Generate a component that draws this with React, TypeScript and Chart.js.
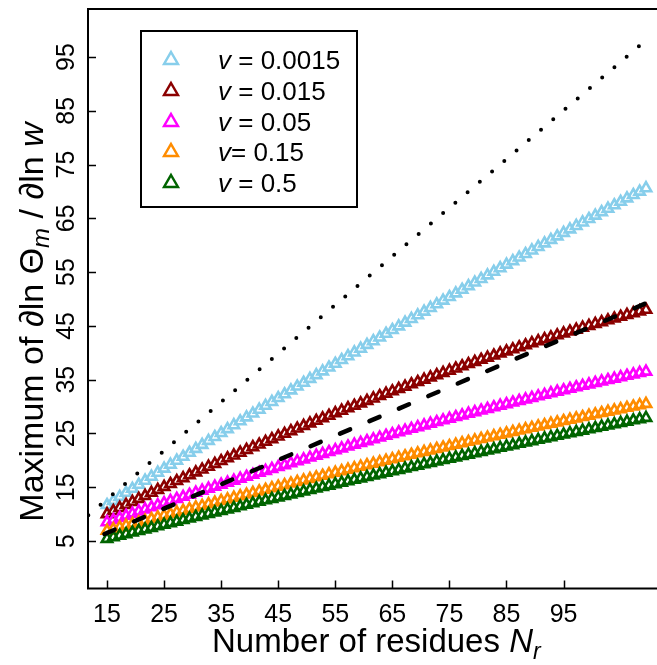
import React, { useEffect, useRef } from 'react';
import { Chart, registerables } from 'chart.js';

Chart.register(...registerables);

// Number of residues N_r
const residues = [
  15, 16, 17, 18, 19, 20, 21, 22, 23, 24, 25, 26, 27, 28, 29, 30, 31, 32, 33, 34,
  35, 36, 37, 38, 39, 40, 41, 42, 43, 44, 45, 46, 47, 48, 49, 50, 51, 52, 53, 54,
  55, 56, 57, 58, 59, 60, 61, 62, 63, 64, 65, 66, 67, 68, 69, 70, 71, 72, 73, 74,
  75, 76, 77, 78, 79, 80, 81, 82, 83, 84, 85, 86, 87, 88, 89, 90, 91, 92, 93, 94,
  95, 96, 97, 98, 99, 100,
];

const v0015 = [
  11.70, 12.46, 13.21, 13.96, 14.71, 15.46, 16.21, 16.96, 17.70, 18.45, 19.19, 19.93, 20.67, 21.41, 22.14, 22.88, 23.61, 24.34, 25.07, 25.80,
  26.53, 27.26, 27.98, 28.70, 29.42, 30.14, 30.86, 31.58, 32.29, 33.01, 33.72, 34.43, 35.14, 35.85, 36.55, 37.26, 37.96, 38.66, 39.36, 40.06,
  40.76, 41.46, 42.15, 42.84, 43.54, 44.23, 44.91, 45.60, 46.29, 46.97, 47.65, 48.33, 49.01, 49.69, 50.37, 51.04, 51.72, 52.39, 53.06, 53.73,
  54.39, 55.06, 55.73, 56.39, 57.05, 57.71, 58.37, 59.03, 59.68, 60.34, 60.99, 61.64, 62.29, 62.94, 63.58, 64.23, 64.87, 65.51, 66.15, 66.79,
  67.43, 68.07, 68.70, 69.34, 69.97, 70.60,
];

const v015 = [
  10.00, 10.57, 11.15, 11.71, 12.28, 12.84, 13.40, 13.96, 14.51, 15.06, 15.60, 16.15, 16.69, 17.23, 17.76, 18.29, 18.82, 19.35, 19.87, 20.39,
  20.91, 21.42, 21.93, 22.44, 22.94, 23.45, 23.94, 24.44, 24.93, 25.42, 25.91, 26.39, 26.87, 27.35, 27.82, 28.29, 28.76, 29.23, 29.69, 30.15,
  30.60, 31.06, 31.51, 31.96, 32.40, 32.84, 33.28, 33.71, 34.15, 34.57, 35.00, 35.42, 35.84, 36.26, 36.67, 37.08, 37.49, 37.90, 38.30, 38.70,
  39.09, 39.49, 39.88, 40.26, 40.65, 41.03, 41.40, 41.78, 42.15, 42.52, 42.88, 43.25, 43.61, 43.96, 44.31, 44.67, 45.01, 45.36, 45.70, 46.04,
  46.37, 46.70, 47.03, 47.36, 47.68, 48.00,
];

const v05 = [
  8.50, 8.90, 9.30, 9.70, 10.10, 10.50, 10.89, 11.28, 11.67, 12.06, 12.45, 12.83, 13.22, 13.60, 13.98, 14.36, 14.73, 15.11, 15.48, 15.85,
  16.22, 16.59, 16.95, 17.32, 17.68, 18.04, 18.40, 18.76, 19.11, 19.47, 19.82, 20.17, 20.52, 20.86, 21.21, 21.55, 21.89, 22.23, 22.57, 22.91,
  23.24, 23.58, 23.91, 24.24, 24.57, 24.89, 25.22, 25.54, 25.86, 26.18, 26.50, 26.81, 27.12, 27.44, 27.75, 28.06, 28.36, 28.67, 28.97, 29.27,
  29.57, 29.87, 30.17, 30.46, 30.75, 31.05, 31.33, 31.62, 31.91, 32.19, 32.48, 32.76, 33.03, 33.31, 33.59, 33.86, 34.13, 34.40, 34.67, 34.94,
  35.20, 35.47, 35.73, 35.99, 36.25, 36.50,
];

const v15 = [
  6.90, 7.22, 7.53, 7.85, 8.16, 8.47, 8.78, 9.09, 9.40, 9.71, 10.02, 10.33, 10.63, 10.94, 11.24, 11.54, 11.85, 12.15, 12.45, 12.75,
  13.05, 13.34, 13.64, 13.94, 14.23, 14.53, 14.82, 15.11, 15.40, 15.69, 15.98, 16.27, 16.56, 16.85, 17.13, 17.42, 17.70, 17.98, 18.27, 18.55,
  18.83, 19.11, 19.39, 19.66, 19.94, 20.22, 20.49, 20.76, 21.04, 21.31, 21.58, 21.85, 22.12, 22.39, 22.66, 22.92, 23.19, 23.45, 23.72, 23.98,
  24.24, 24.50, 24.76, 25.02, 25.28, 25.54, 25.79, 26.05, 26.30, 26.56, 26.81, 27.06, 27.31, 27.56, 27.81, 28.06, 28.31, 28.56, 28.80, 29.05,
  29.29, 29.53, 29.77, 30.01, 30.25, 30.49,
];

const v5 = [
  5.40, 5.70, 5.99, 6.28, 6.58, 6.87, 7.16, 7.45, 7.74, 8.03, 8.32, 8.61, 8.90, 9.18, 9.47, 9.75, 10.04, 10.32, 10.60, 10.89,
  11.17, 11.45, 11.73, 12.01, 12.29, 12.57, 12.84, 13.12, 13.39, 13.67, 13.94, 14.22, 14.49, 14.76, 15.03, 15.30, 15.57, 15.84, 16.11, 16.38,
  16.65, 16.91, 17.18, 17.44, 17.71, 17.97, 18.23, 18.49, 18.75, 19.02, 19.28, 19.53, 19.79, 20.05, 20.31, 20.56, 20.82, 21.07, 21.33, 21.58,
  21.83, 22.08, 22.33, 22.58, 22.83, 23.08, 23.33, 23.58, 23.82, 24.07, 24.32, 24.56, 24.80, 25.05, 25.29, 25.53, 25.77, 26.01, 26.25, 26.49,
  26.73, 26.96, 27.20, 27.44, 27.67, 27.90,
];

// Reference lines
const dashedX = [14.6, 100];
const dashedY = [6.3, 49.2];
const dottedX = [12.05, 100];
const dottedY = [9.8, 98.1];

// Axis ticks
const xTickValues = [15, 24, 33, 42, 51, 60, 69, 78, 87];
const xTickLabels = ['15', '25', '35', '45', '55', '65', '75', '85', '95'];
const yTickValues = [5, 15, 25, 35, 45, 55, 65, 75, 85, 95];
const yTickLabels = ['5', '15', '25', '35', '45', '55', '65', '75', '85', '95'];

// Legend
const legendValues = [' = 0.0015', ' = 0.015', ' = 0.05', '= 0.15', ' = 0.5'];
const seriesColors = ['#87CEEB', '#8B0000', '#FF00FF', '#FF8C00', '#006400'];

const FONT = '"Liberation Sans", Arial, Helvetica, sans-serif';

type Piece = { t: string; size: number; italic?: boolean; dy?: number };

function drawPieces(ctx: CanvasRenderingContext2D, pieces: Piece[], x: number, y: number, align: 'left' | 'center') {
  const widths = pieces.map((p) => {
    ctx.font = `${p.italic ? 'italic ' : ''}${p.size}px ${FONT}`;
    return ctx.measureText(p.t).width;
  });
  const total = widths.reduce((a, b) => a + b, 0);
  let cx = align === 'center' ? x - total / 2 : x;
  ctx.textAlign = 'left';
  ctx.textBaseline = 'alphabetic';
  pieces.forEach((p, i) => {
    ctx.font = `${p.italic ? 'italic ' : ''}${p.size}px ${FONT}`;
    ctx.fillText(p.t, cx, y + (p.dy || 0));
    cx += widths[i];
  });
}

const decorPlugin = {
  id: 'decor',
  afterDraw(chart: any) {
    const ctx: CanvasRenderingContext2D = chart.ctx;
    const { left, top, right, bottom } = chart.chartArea;
    const xs = chart.scales.x;
    const ys = chart.scales.y;
    ctx.save();
    ctx.strokeStyle = '#000';
    ctx.fillStyle = '#000';
    // box
    ctx.lineWidth = 2;
    ctx.strokeRect(left, top, right - left, bottom - top);
    // ticks (inward)
    ctx.lineWidth = 1.5;
    ctx.beginPath();
    xTickValues.forEach((v) => {
      const px = Math.round(xs.getPixelForValue(v)) + 0.5;
      ctx.moveTo(px, bottom);
      ctx.lineTo(px, bottom - 8);
    });
    yTickValues.forEach((v) => {
      const py = Math.round(ys.getPixelForValue(v)) + 0.5;
      ctx.moveTo(left, py);
      ctx.lineTo(left + 8, py);
    });
    ctx.stroke();
    // x tick labels
    ctx.font = `25px ${FONT}`;
    ctx.textAlign = 'center';
    ctx.textBaseline = 'alphabetic';
    xTickValues.forEach((v, i) => {
      ctx.fillText(xTickLabels[i], xs.getPixelForValue(v), 622);
    });
    // y tick labels (rotated)
    yTickValues.forEach((v, i) => {
      ctx.save();
      ctx.translate(74, ys.getPixelForValue(v));
      ctx.rotate(-Math.PI / 2);
      ctx.font = `25px ${FONT}`;
      ctx.textAlign = 'center';
      ctx.textBaseline = 'alphabetic';
      ctx.fillText(yTickLabels[i], 0, 0);
      ctx.restore();
    });
    // x title
    drawPieces(
      ctx,
      [
        { t: 'Number of residues ', size: 33 },
        { t: 'N', size: 33, italic: true },
        { t: 'r', size: 23, italic: true, dy: 7 },
      ],
      212,
      652,
      'left'
    );
    // y title
    ctx.save();
    ctx.translate(43, 322);
    ctx.rotate(-Math.PI / 2);
    drawPieces(
      ctx,
      [
        { t: 'Maximum of \u2202ln \u0398', size: 34 },
        { t: 'm', size: 24, italic: true, dy: 6 },
        { t: ' / \u2202ln ', size: 34 },
        { t: 'w', size: 34, italic: true },
      ],
      0,
      0,
      'center'
    );
    ctx.restore();
    // legend
    ctx.lineWidth = 2;
    ctx.strokeRect(141, 31, 216, 176);
    const rowY = [60, 91, 122, 152, 183];
    legendValues.forEach((txt, i) => {
      const cx = 171;
      const cy = rowY[i];
      const r = 8;
      ctx.strokeStyle = seriesColors[i];
      ctx.lineWidth = 2.5;
      ctx.beginPath();
      ctx.moveTo(cx, cy - r);
      ctx.lineTo(cx + 0.866 * r, cy + 0.5 * r);
      ctx.lineTo(cx - 0.866 * r, cy + 0.5 * r);
      ctx.closePath();
      ctx.stroke();
      ctx.fillStyle = '#000';
      drawPieces(
        ctx,
        [
          { t: 'v', size: 26, italic: true },
          { t: txt, size: 26 },
        ],
        218,
        cy + 9.3,
        'left'
      );
    });
    ctx.restore();
  },
};

function pts(xs: number[], ys: number[]) {
  return xs.map((x, i) => ({ x, y: ys[i] }));
}

export default function App() {
  const ref = useRef<HTMLCanvasElement | null>(null);
  useEffect(() => {
    if (!ref.current) return;
    const series = [v0015, v015, v05, v15, v5];
    const triDatasets = series.map((vals, i) => ({
      label: 'v' + legendValues[i],
      data: pts(residues, vals),
      showLine: false,
      pointStyle: 'triangle',
      pointRadius: 6,
      pointHoverRadius: 6,
      pointBorderWidth: 2.6,
      pointBorderColor: seriesColors[i],
      pointBackgroundColor: 'rgba(0,0,0,0)',
      borderColor: seriesColors[i],
      order: 5 - i,
    }));
    const chart = new Chart(ref.current, {
      type: 'line',
      data: {
        datasets: [
          {
            label: 'dashed',
            data: pts(dashedX, dashedY),
            borderColor: '#000',
            borderWidth: 4.5,
            borderDash: [11, 21],
            borderCapStyle: 'round',
            pointRadius: 0,
            fill: false,
            order: 0,
          } as any,
          {
            label: 'dotted',
            data: pts(dottedX, dottedY),
            borderColor: '#000',
            borderWidth: 4,
            borderDash: [0, 16.07],
            borderCapStyle: 'round',
            pointRadius: 0,
            fill: false,
            order: 0,
          } as any,
          ...triDatasets,
        ],
      },
      options: {
        responsive: false,
        maintainAspectRatio: false,
        devicePixelRatio: 1,
        animation: false,
        events: [],
        layout: { padding: { left: 88, top: 9, right: 10, bottom: 76.5 } },
        plugins: { legend: { display: false }, tooltip: { enabled: false } },
        scales: {
          x: { type: 'linear', min: 12.0, max: 106.94, display: false },
          y: { type: 'linear', min: -3.83, max: 103.92, display: false },
        },
      },
      plugins: [decorPlugin],
    } as any);
    return () => chart.destroy();
  }, []);
  return (
    <div style={{ position: 'fixed', left: 0, top: 0, width: 657, height: 665, overflow: 'hidden', background: '#fff' }}>
      <canvas ref={ref} width={700} height={665} style={{ width: 700, height: 665, display: 'block' }} />
    </div>
  );
}
